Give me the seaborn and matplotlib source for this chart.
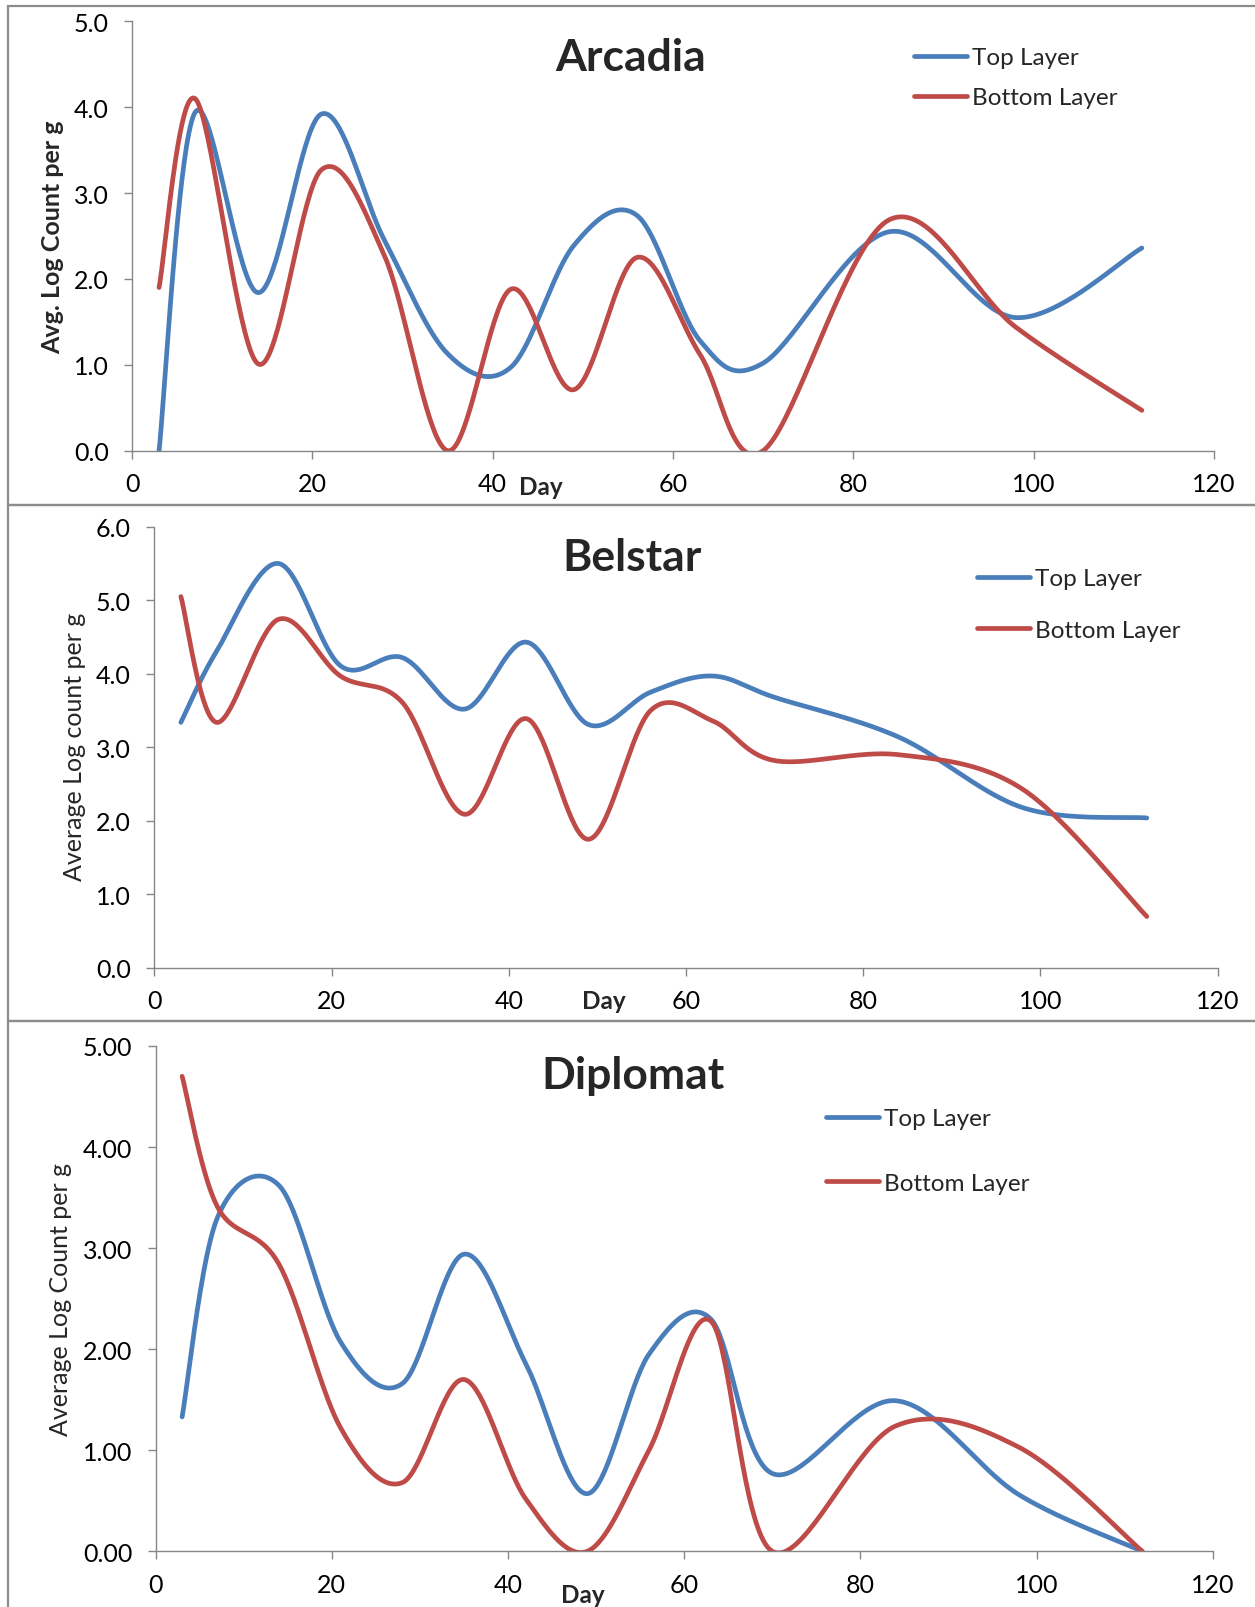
import numpy as np
import pandas as pd
import matplotlib
matplotlib.use("Agg")
import matplotlib.pyplot as plt
import seaborn as sns
from matplotlib.patches import Rectangle
from matplotlib.lines import Line2D

# ---------------- data ----------------
days = [3, 7, 14, 21, 28, 35, 42, 49, 56, 63, 70, 84, 98, 112]

arcadia_top = [0.00, 3.94, 1.84, 3.92, 2.45, 1.13, 0.97, 2.39, 2.74, 1.28, 1.02, 2.55, 1.55, 2.36]
arcadia_bottom = [1.90, 4.10, 1.01, 3.27, 2.27, 0.00, 1.88, 0.71, 2.25, 1.12, 0.00, 2.69, 1.44, 0.47]

belstar_top = [3.34, 4.30, 5.50, 4.11, 4.22, 3.52, 4.43, 3.31, 3.75, 3.97, 3.68, 3.14, 2.18, 2.04]
belstar_bottom = [5.05, 3.34, 4.74, 3.97, 3.61, 2.09, 3.39, 1.75, 3.50, 3.36, 2.82, 2.90, 2.43, 0.70]

diplomat_top = [1.33, 3.30, 3.62, 2.07, 1.66, 2.94, 1.86, 0.57, 1.95, 2.30, 0.77, 1.49, 0.56, 0.00]
diplomat_bottom = [4.70, 3.41, 2.84, 1.22, 0.68, 1.70, 0.52, 0.00, 1.00, 2.28, 0.00, 1.24, 1.03, 0.00]

series_names = ["Top Layer", "Bottom Layer"]
titles = ["Arcadia", "Belstar", "Diplomat"]
ylabels = ["Avg. Log Count per g", "Average Log count per g", "Average Log Count per g"]
xlabel = "Day"
x_ticks = [0, 20, 40, 60, 80, 100, 120]
y_ticks = [[0, 1, 2, 3, 4, 5], [0, 1, 2, 3, 4, 5, 6], [0, 1, 2, 3, 4, 5]]
y_fmt = ["{:.1f}", "{:.1f}", "{:.2f}"]

# ---------------- styling ----------------
W, H = 1255, 1608
BLUE = "#4A7EBB"
RED = "#BE4B48"
AXGRAY = "#868686"
BORDER = "#8C8C8C"

sns.set_theme(style="white")
plt.rcParams["font.family"] = ["Lato", "DejaVu Sans"]

fig = plt.figure(figsize=(W / 100, H / 100), dpi=100)


def px_rect(l, t, r, b):
    """pixel box (left, top, right, bottom) -> figure fraction rect"""
    return [l / W, 1 - b / H, (r - l) / W, (b - t) / H]


def excel_smooth(x, y, n=40):
    pts = np.column_stack([x, y]).astype(float)
    m = len(pts)
    t = np.linspace(0, 1, n)
    out = []
    for i in range(m - 1):
        p0, p3 = pts[i], pts[i + 1]
        pm = pts[i - 1] if i > 0 else pts[i]
        pp = pts[i + 2] if i + 2 < m else pts[i + 1]
        c1 = p0 + (p3 - pm) / 6.0
        c2 = p3 - (pp - p0) / 6.0
        seg = (((1 - t) ** 3)[:, None] * p0 + (3 * (1 - t) ** 2 * t)[:, None] * c1
               + (3 * (1 - t) * t ** 2)[:, None] * c2 + (t ** 3)[:, None] * p3)
        out.append(seg if i == 0 else seg[1:])
    return np.vstack(out)


# panel geometry in pixels
axes_px = [(132, 22.3, 1214, 451.7), (154.3, 527.7, 1217.7, 969), (155.7, 1047, 1212.7, 1552.3)]
borders_px = [(8, 7, 1262, 506), (8, 506, 1262, 1022), (8, 1022, 1262, 1616)]
title_px = [(631, 71), (632, 571), (633, 1089)]
ylabel_px = [(53, 237), (75, 747), (61, 1300)]
ylabel_bold = [True, False, False]
xlabel_px = [(541, 495), (604, 1009), (583, 1603)]
legend_px = [(914, 78.75, 0.78), (977, 605.5, 1.25), (826, 1152, 1.79)]

panels = [(arcadia_top, arcadia_bottom), (belstar_top, belstar_bottom), (diplomat_top, diplomat_bottom)]

for k in range(3):
    # panel frame
    l, t, r, b = borders_px[k]
    fig.add_artist(Rectangle((l / W, 1 - b / H), (r - l) / W, (b - t) / H,
                             transform=fig.transFigure, fill=False,
                             edgecolor=BORDER, linewidth=1.6, zorder=0))

    ax = fig.add_axes(px_rect(*axes_px[k]))
    top, bottom = panels[k]
    frames = []
    for name, vals in zip(series_names, [top, bottom]):
        sm = excel_smooth(days, vals)
        frames.append(pd.DataFrame({"Day": sm[:, 0], "Value": sm[:, 1], "Layer": name}))
    df = pd.concat(frames, ignore_index=True)
    sns.lineplot(data=df, x="Day", y="Value", hue="Layer", palette=[BLUE, RED],
                 sort=False, estimator=None, linewidth=3.4, legend=False, ax=ax,
                 solid_capstyle="round")

    ax.set_xlim(0, 120)
    ax.set_ylim(0, max(y_ticks[k]))
    ax.set_xticks(x_ticks)
    ax.set_xticklabels([str(v) for v in x_ticks])
    ax.set_yticks(y_ticks[k])
    ax.set_yticklabels([y_fmt[k].format(v) for v in y_ticks[k]])
    for s in ["top", "right"]:
        ax.spines[s].set_visible(False)
    for s in ["left", "bottom"]:
        ax.spines[s].set_color(AXGRAY)
        ax.spines[s].set_linewidth(1.0)
    ax.tick_params(axis="both", direction="out", length=5.8, width=1.0, color=AXGRAY,
                   labelsize=18, labelcolor="black")
    ax.tick_params(axis="y", pad=11, left=True)
    ax.tick_params(axis="x", pad=9.5, bottom=True)
    ax.set_facecolor("none")

    # axis titles
    x0, y0, x1, y1 = axes_px[k]
    ax.set_xlabel(xlabel, fontsize=17.5, fontweight="bold")
    ax.xaxis.label.set_verticalalignment("baseline")
    ax.xaxis.set_label_coords((xlabel_px[k][0] - x0) / (x1 - x0), (y1 - xlabel_px[k][1]) / (y1 - y0))
    ax.set_ylabel(ylabels[k], fontsize=18, fontweight="bold" if ylabel_bold[k] else "normal")
    ax.yaxis.label.set_verticalalignment("center")
    ax.yaxis.set_label_coords((ylabel_px[k][0] - x0) / (x1 - x0), (y1 - ylabel_px[k][1]) / (y1 - y0))

    # chart title
    fig.text(title_px[k][0] / W, 1 - title_px[k][1] / H, titles[k], fontsize=32,
             fontweight="bold", ha="center", va="baseline")

    # legend
    handles = [Line2D([], [], color=BLUE, linewidth=3.4, solid_capstyle="round"),
               Line2D([], [], color=RED, linewidth=3.4, solid_capstyle="round")]
    lx, ly, lsp = legend_px[k]
    ax.legend(handles, series_names, loc="center left",
              bbox_to_anchor=(lx / W, 1 - ly / H), bbox_transform=fig.transFigure,
              frameon=False, fontsize=17.5, handlelength=2.2, handletextpad=0.2,
              labelspacing=lsp, borderpad=0, borderaxespad=0)

fig.savefig("out.png", dpi=100)
